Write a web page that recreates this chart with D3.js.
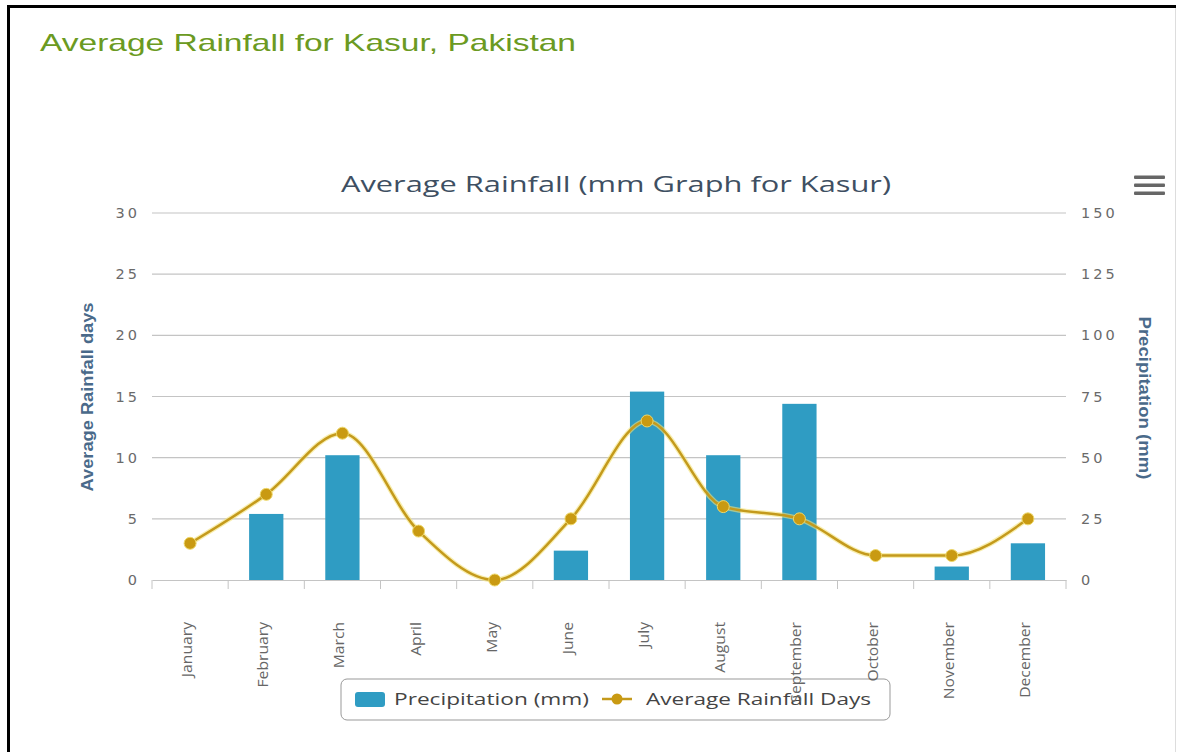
<!DOCTYPE html>
<html>
<head>
<meta charset="utf-8">
<script src="https://cdn.jsdelivr.net/npm/d3@7/dist/d3.min.js"></script>
<style>
  html, body { margin: 0; padding: 0; background: #fff; }
  svg { display: block; }
</style>
</head>
<body>
<svg id="chart" width="1178" height="752"></svg>
<script>
const months = ["January","February","March","April","May","June","July","August","September","October","November","December"];
const precipitation = [0, 27, 51, 0, 0, 12, 77, 51, 72, 0, 5.5, 15];
const rainDays = [3, 7, 12, 4, 0, 5, 13, 6, 5, 2, 2, 5];
const leftTicks = [0, 5, 10, 15, 20, 25, 30];
const rightTicks = [0, 25, 50, 75, 100, 125, 150];

const svg = d3.select("#chart");
const W = 1178, H = 752;
const plot = { left: 152, right: 1066, top: 213, bottom: 580 };

svg.append("rect").attr("width", W).attr("height", H).attr("fill", "#fff");
// frame
svg.append("rect").attr("x", 7).attr("y", 5).attr("width", 3).attr("height", H - 5).attr("fill", "#000");
svg.append("rect").attr("x", 7).attr("y", 5).attr("width", 1169).attr("height", 3).attr("fill", "#000");
svg.append("rect").attr("x", 1175).attr("y", 8).attr("width", 1).attr("height", H - 8).attr("fill", "#ddd");

// header
svg.append("text")
  .attr("x", 40).attr("y", 51)
  .attr("font-family", "Liberation Sans, Arial, sans-serif")
  .attr("font-size", 24)
  .attr("fill", "#6b9a22")
  .attr("textLength", 536).attr("lengthAdjust", "spacingAndGlyphs")
  .text("Average Rainfall for Kasur, Pakistan");

// chart title
svg.append("text")
  .attr("x", 616).attr("y", 192)
  .attr("text-anchor", "middle")
  .attr("font-family", "Open Sans, sans-serif")
  .attr("font-size", 21)
  .attr("fill", "#3e4f62")
  .attr("textLength", 550).attr("lengthAdjust", "spacingAndGlyphs")
  .text("Average Rainfall (mm Graph for Kasur)");

// menu icon
[177, 185, 193].forEach(y => {
  svg.append("rect").attr("x", 1134).attr("y", y - 1.5).attr("width", 31).attr("height", 3.5)
    .attr("fill", "#666").attr("rx", 1);
});

const x = d3.scaleBand().domain(months).range([plot.left, plot.right]).paddingInner(0).paddingOuter(0);
const yL = d3.scaleLinear().domain([0, 30]).range([plot.bottom, plot.top]);
const yR = d3.scaleLinear().domain([0, 150]).range([plot.bottom, plot.top]);

// gridlines
const grid = svg.append("g");
grid.selectAll("line").data(leftTicks.filter(d => d > 0)).join("line")
  .attr("x1", plot.left).attr("x2", plot.right)
  .attr("y1", d => yL(d)).attr("y2", d => yL(d))
  .attr("stroke", "#c4c4c4").attr("stroke-width", 1.2);

// left axis labels
const labFont = "DejaVu Sans, sans-serif";
svg.append("g").selectAll("text").data(leftTicks).join("text")
  .attr("x", 140).attr("y", d => yL(d) + 5)
  .attr("text-anchor", "end")
  .attr("font-family", labFont).attr("font-size", 14.5)
  .attr("letter-spacing", 3)
  .attr("fill", "#6a6a6a")
  .text(d => d);

// right axis labels
svg.append("g").selectAll("text").data(rightTicks).join("text")
  .attr("x", 1081).attr("y", d => yR(d) + 5)
  .attr("text-anchor", "start")
  .attr("font-family", labFont).attr("font-size", 14.5)
  .attr("letter-spacing", 3)
  .attr("fill", "#6a6a6a")
  .text(d => d);

// axis titles
svg.append("text")
  .attr("transform", "translate(93,397) rotate(-90)")
  .attr("text-anchor", "middle")
  .attr("font-family", "Liberation Sans Narrow, Liberation Sans, sans-serif")
  .attr("font-weight", "bold").attr("font-size", 17)
  .attr("fill", "#4a6a8a")
  .attr("textLength", 189).attr("lengthAdjust", "spacingAndGlyphs")
  .text("Average Rainfall days");

svg.append("text")
  .attr("transform", "translate(1139,398) rotate(90)")
  .attr("text-anchor", "middle")
  .attr("font-family", "Liberation Sans Narrow, Liberation Sans, sans-serif")
  .attr("font-weight", "bold").attr("font-size", 17)
  .attr("fill", "#4a6a8a")
  .attr("textLength", 163).attr("lengthAdjust", "spacingAndGlyphs")
  .text("Precipitation (mm)");

// x axis
const xAxis = d3.axisBottom(x).tickSize(0).tickFormat("");
const gx = svg.append("g").attr("transform", `translate(0,${plot.bottom})`).call(xAxis);
gx.select(".domain").attr("stroke", "#c4c4c4").attr("stroke-width", 1.2);
// band boundary ticks
const boundaries = months.map(m => x(m)).concat([plot.right]);
svg.append("g").selectAll("line").data(boundaries).join("line")
  .attr("x1", d => d).attr("x2", d => d)
  .attr("y1", plot.bottom).attr("y2", plot.bottom + 9)
  .attr("stroke", "#c4c4c4").attr("stroke-width", 1);

// bars
const barW = x.bandwidth() * 0.45;
svg.append("g").selectAll("rect").data(precipitation).join("rect")
  .attr("x", (d, i) => x(months[i]) + (x.bandwidth() - barW) / 2)
  .attr("y", d => yR(d))
  .attr("width", barW)
  .attr("height", d => plot.bottom - yR(d))
  .attr("fill", "#2f9cc3");

// line
const line = d3.line()
  .x((d, i) => x(months[i]) + x.bandwidth() / 2)
  .y(d => yL(d))
  .curve(d3.curveMonotoneX);

svg.append("path").datum(rainDays)
  .attr("d", line).attr("fill", "none")
  .attr("stroke", "#f3e27a").attr("stroke-width", 5).attr("stroke-opacity", 0.6);
svg.append("path").datum(rainDays)
  .attr("d", line).attr("fill", "none")
  .attr("stroke", "#c49a1c").attr("stroke-width", 2.5);

svg.append("g").selectAll("circle").data(rainDays).join("circle")
  .attr("cx", (d, i) => x(months[i]) + x.bandwidth() / 2)
  .attr("cy", d => yL(d))
  .attr("r", 6)
  .attr("fill", "#c99a12")
  .attr("stroke", "#eed86a").attr("stroke-width", 1);

// legend (transparent, labels overlap it as in the reference)
const lg = svg.append("g");
lg.append("rect").attr("x", 341).attr("y", 679).attr("width", 549).attr("height", 41)
  .attr("rx", 6).attr("fill", "none").attr("stroke", "#999").attr("stroke-width", 1);
lg.append("rect").attr("x", 355).attr("y", 692).attr("width", 30).attr("height", 15)
  .attr("rx", 3).attr("fill", "#2f9cc3");
lg.append("text").attr("x", 394).attr("y", 705)
  .attr("font-family", "Open Sans, sans-serif").attr("font-size", 17).attr("fill", "#444")
  .attr("textLength", 195).attr("lengthAdjust", "spacingAndGlyphs")
  .text("Precipitation (mm)");
lg.append("line").attr("x1", 602).attr("x2", 632).attr("y1", 699).attr("y2", 699)
  .attr("stroke", "#c49a1c").attr("stroke-width", 2.5);
lg.append("circle").attr("cx", 617).attr("cy", 699).attr("r", 5.5).attr("fill", "#c99a12");
lg.append("text").attr("x", 646).attr("y", 705)
  .attr("font-family", "Open Sans, sans-serif").attr("font-size", 17).attr("fill", "#444")
  .attr("textLength", 225).attr("lengthAdjust", "spacingAndGlyphs")
  .text("Average Rainfall Days");

// month labels (drawn last, over the legend)
svg.append("g").selectAll("text").data(months).join("text")
  .attr("transform", d => `translate(${x(d) + x.bandwidth() / 2 + 2},622) rotate(-90)`)
  .attr("text-anchor", "end")
  .attr("font-family", "Open Sans, sans-serif")
  .attr("font-size", 14)
  .attr("fill", "#666")
  .each(function(d) {
    const el = d3.select(this);
    el.text(d);
    const len = this.getComputedTextLength();
    el.attr("textLength", len * 1.12).attr("lengthAdjust", "spacingAndGlyphs");
  });
</script>
</body>
</html>
